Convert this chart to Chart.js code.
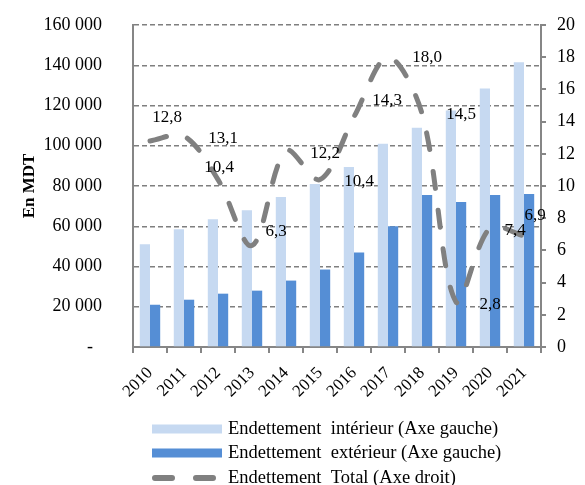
<!doctype html>
<html lang="fr">

<head>
  <meta charset="UTF-8">
  <title>Endettement</title>
  <style>
    html,
    body {
      margin: 0;
      padding: 0;
      background-color: #fff;
    }
  </style>
</head>

<body>
  <canvas id="datavis" width="585" height="485"></canvas>

  <script src="https://cdn.jsdelivr.net/npm/chart.js@4/dist/chart.umd.min.js"></script>

  <script>
    // values
    const years = ['2010', '2011', '2012', '2013', '2014', '2015', '2016', '2017', '2018', '2019', '2020', '2021'];
    const interieur = [51000, 58500, 63500, 68000, 74500, 81000, 89500, 101000, 109000, 117500, 128500, 141500];
    const exterieur = [21000, 23500, 26500, 28000, 33000, 38500, 47000, 60000, 75500, 72000, 75500, 76000];
    const total = [12.8, 13.1, 10.4, 6.3, 12.2, 10.4, 14.3, 18.0, 14.5, 2.8, 7.4, 6.9];
    const seriesNames = [
      'Endettement  intérieur (Axe gauche)',
      'Endettement  extérieur (Axe gauche)',
      'Endettement  Total (Axe droit)'
    ];

    // where each label of the dashed line sits, relative to its point
    const labelShift = [[17, -23], [39, 2], [1, -12], [24, -14], [39, 3], [39, 2], [33, -16], [39, 0], [39, 1], [34, 3], [25, 3], [11, -20]];

    const serif = '"Liberation Serif", "Times New Roman", serif';
    const axisGray = '#868686';
    const lightBlue = '#C6D9F1';
    const darkBlue = '#558ED5';
    const lineGray = '#808080';

    function frNumber(v) {
      if (v === 0) return '-  ';
      return String(v).replace(/\B(?=(\d{3})+(?!\d))/g, ' ');
    }

    const extras = {
      id: 'extras',
      afterDatasetsDraw(chart) {
        const ctx = chart.ctx;
        const meta = chart.getDatasetMeta(0);
        ctx.save();
        ctx.font = '17px ' + serif;
        ctx.fillStyle = '#000';
        ctx.textAlign = 'center';
        ctx.textBaseline = 'middle';
        meta.data.forEach(function (pt, i) {
          const txt = total[i].toFixed(1).replace('.', ',');
          ctx.fillText(txt, pt.x + labelShift[i][0], pt.y + labelShift[i][1]);
        });
        ctx.restore();
      },
      afterDraw(chart) {
        // legend under the plot
        const ctx = chart.ctx;
        const x0 = 152, w = 70, textX = 228;
        const rows = [429, 453, 478];
        ctx.save();
        ctx.fillStyle = lightBlue;
        ctx.fillRect(x0, rows[0] - 4.5, w, 9);
        ctx.fillStyle = darkBlue;
        ctx.fillRect(x0, rows[1] - 4.5, w, 9);
        ctx.strokeStyle = lineGray;
        ctx.lineWidth = 6;
        ctx.lineCap = 'round';
        ctx.beginPath();
        ctx.moveTo(x0 + 3, rows[2]);
        ctx.lineTo(x0 + 20, rows[2]);
        ctx.moveTo(x0 + 44, rows[2]);
        ctx.lineTo(x0 + 61, rows[2]);
        ctx.stroke();
        ctx.font = '18.5px ' + serif;
        ctx.fillStyle = '#000';
        ctx.textBaseline = 'middle';
        seriesNames.forEach(function (s, i) {
          ctx.fillText(s, textX, rows[i]);
        });
        ctx.restore();
      }
    };

    new Chart('datavis', {
      data: {
        labels: years,
        datasets: [
          {
            type: 'line',
            label: seriesNames[2],
            data: total,
            yAxisID: 'y1',
            borderColor: lineGray,
            borderWidth: 5,
            borderDash: [17, 22],
            borderCapStyle: 'round',
            pointRadius: 0,
            tension: 0.33,
            fill: false,
            order: 0
          },
          {
            type: 'bar',
            label: seriesNames[0],
            data: interieur,
            yAxisID: 'y',
            backgroundColor: lightBlue,
            categoryPercentage: 0.6,
            barPercentage: 1.0,
            order: 1
          },
          {
            type: 'bar',
            label: seriesNames[1],
            data: exterieur,
            yAxisID: 'y',
            backgroundColor: darkBlue,
            categoryPercentage: 0.6,
            barPercentage: 1.0,
            order: 1
          }
        ]
      },
      options: {
        responsive: false,
        animation: false,
        layout: { padding: { top: 25, left: 0, right: 0, bottom: 0 } },
        plugins: {
          legend: { display: false },
          tooltip: { enabled: false }
        },
        scales: {
          x: {
            grid: { offset: true, drawOnChartArea: false, tickLength: 6, color: axisGray, lineWidth: 2 },
            border: { color: axisGray, width: 2 },
            ticks: { minRotation: 45, maxRotation: 45, padding: 10, color: '#000', font: { family: serif, size: 17 } },
            afterFit: function (s) { s.height = 138; }
          },
          y: {
            position: 'left',
            min: 0,
            max: 160000,
            ticks: {
              stepSize: 20000,
              padding: 5,
              color: '#000',
              font: { family: serif, size: 18 },
              callback: function (v) { return frNumber(v); }
            },
            // long invisible tick marks push the labels away from the axis
            grid: { color: '#7f7f7f', lineWidth: 1.5, tickLength: 26, tickColor: 'rgba(0,0,0,0)' },
            border: { color: axisGray, width: 2, dash: [5, 3] },
            title: {
              display: true,
              text: 'En MDT',
              color: '#000',
              font: { family: serif, size: 17, weight: 'bold' },
              padding: { top: 19, bottom: 0 }
            },
            afterFit: function (s) { s.width = 133; }
          },
          y1: {
            position: 'right',
            min: 0,
            max: 20,
            ticks: { stepSize: 2, padding: 11, color: '#000', font: { family: serif, size: 18 } },
            grid: { drawOnChartArea: false, tickLength: 5, color: axisGray, lineWidth: 2 },
            border: { color: axisGray, width: 2 },
            afterFit: function (s) { s.width = 44; }
          }
        }
      },
      plugins: [extras]
    });
  </script>
</body>

</html>
